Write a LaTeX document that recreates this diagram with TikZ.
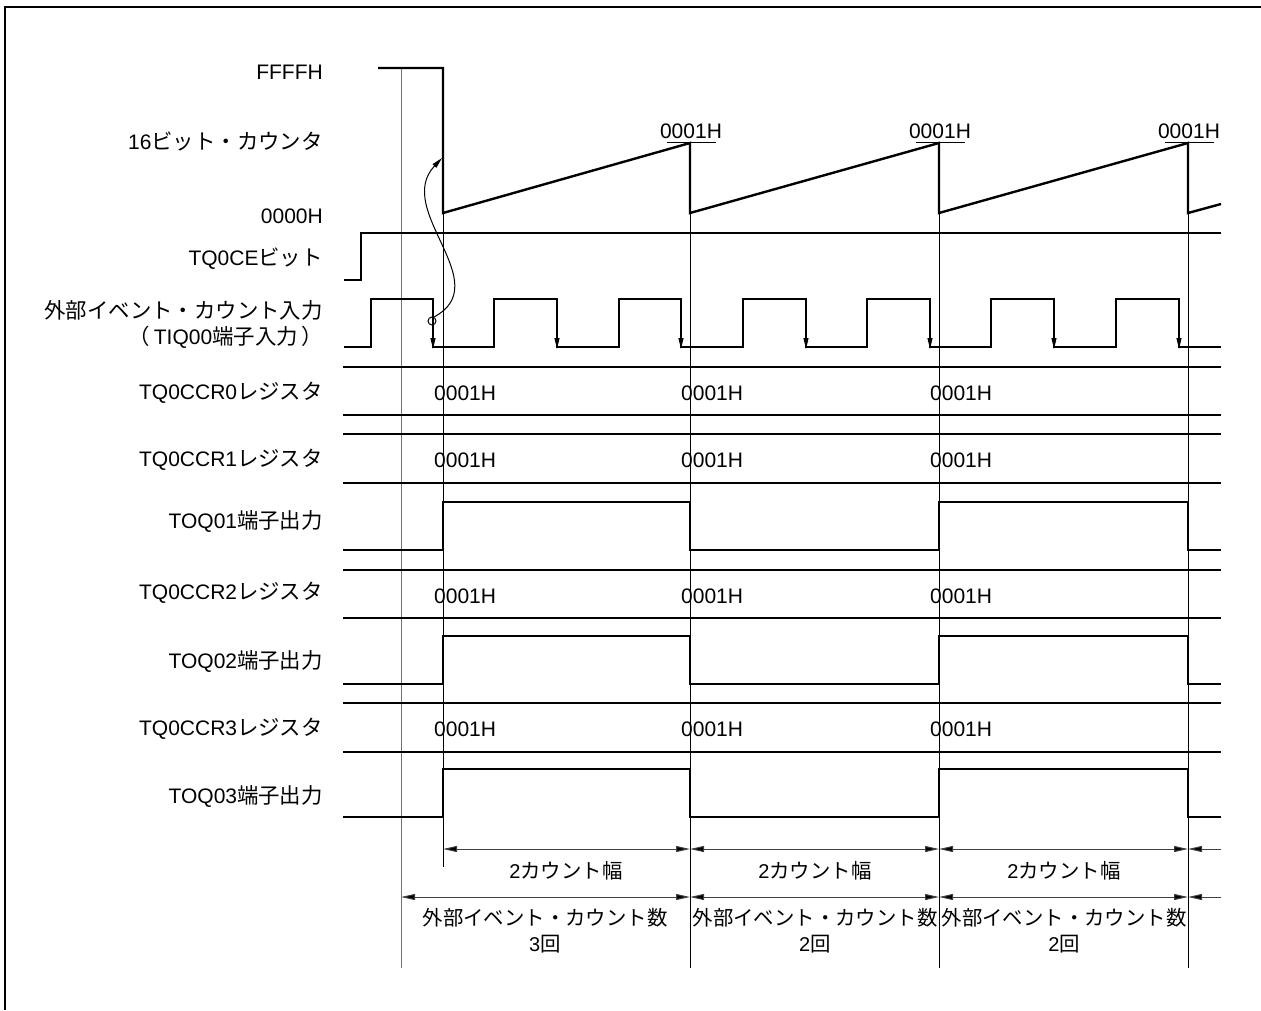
\documentclass[tikz,border=0pt]{standalone}
\usepackage{fontspec}
\setmainfont{Liberation Sans}
\newfontfamily\cjk[Scale=1.02]{Noto Sans CJK JP}
\usetikzlibrary{arrows.meta}
\begin{document}
\begin{tikzpicture}[x=1pt,y=-1pt,
  wave/.style={line width=2.4pt, line join=miter, line cap=butt},
  thinl/.style={line width=1pt},
  grayl/.style={line width=1pt, black!55},
  lbl/.style={inner sep=0pt, font=\fontsize{21}{25}\selectfont, anchor=east},
  txt/.style={inner sep=0pt, font=\fontsize{21}{25}\selectfont},
  btxt/.style={inner sep=0pt, font=\fontsize{20}{24}\selectfont},
  fallarrow/.style={line width=1pt, -{Triangle[length=11pt,width=5pt]}},
  dim/.style={line width=1pt, black!75, {Triangle[length=14pt,width=6pt,fill=black]}-{Triangle[length=14pt,width=6pt,fill=black]}},
  dimr/.style={line width=1pt, black!75, {Triangle[length=14pt,width=6pt,fill=black]}-}]
\useasboundingbox (0,0) rectangle (1261,1010);
% frame
\draw[line width=2pt] (5,1010) -- (5,7) -- (1261,7);

% timing coordinates
\coordinate (tA) at (401,0);
\coordinate (t0) at (443,0);
\coordinate (t1) at (690,0);
\coordinate (t2) at (939,0);
\coordinate (t3) at (1188,0);

% vertical guide lines
\draw[grayl] (401,68) -- (401,968);
\draw[thinl] (443,213) -- (443,867);
\foreach \x in {690,939,1188}{
  \draw[thinl] (\x,143) -- (\x,968);
}

% labels
\node[lbl] (lF) at (323,72) {FFFFH};
\node[lbl] (lcnt) at (323,141) {16{\cjk ビット・カウンタ}};
\node[lbl] (l0) at (323,216) {0000H};
\node[lbl] (lce) at (323,259) {TQ0CE{\cjk ビット}};
\node[lbl] (lev1) at (323,310) {\cjk 外部イベント・カウント入力};
\node[lbl] (lev2) at (323,337) {{\cjk （}\,TIQ00{\cjk 端子入力}\,{\cjk ）}};
\node[lbl] (lr0) at (323,393) {TQ0CCR0{\cjk レジスタ}};
\node[lbl] (lr1) at (323,460) {TQ0CCR1{\cjk レジスタ}};
\node[lbl] (lo1) at (323,521) {TOQ01{\cjk 端子出力}};
\node[lbl] (lr2) at (323,593) {TQ0CCR2{\cjk レジスタ}};
\node[lbl] (lo2) at (323,661) {TOQ02{\cjk 端子出力}};
\node[lbl] (lr3) at (323,729) {TQ0CCR3{\cjk レジスタ}};
\node[lbl] (lo3) at (323,796) {TOQ03{\cjk 端子出力}};

% 16-bit counter
\draw[wave] (378,68) -- (443,68) -- (443,213) -- (690,143) -- (690,213) -- (939,143) -- (939,213) -- (1188,143) -- (1188,213) -- (1221,204);
\foreach \x/\n in {690/a,939/b,1188/c}{
  \node[txt] (pk\n) at (\x+1,131) {0001H};
  \draw[thinl] (\x-23,142) -- (\x+26,142);
}

% TQ0CE bit
\draw[wave] (344,280) -- (361,280) -- (361,233) -- (1221,233);

% external event input
\draw[wave] (344,347) -- (371,347) -- (371,299) -- (433,299) -- (433,347) -- (494,347) -- (494,299) -- (557,299) -- (557,347) -- (619,347) -- (619,299) -- (681,299) -- (681,347) -- (743,347) -- (743,299) -- (806,299) -- (806,347) -- (867,347) -- (867,299) -- (930,299) -- (930,347) -- (991,347) -- (991,299) -- (1054,299) -- (1054,347) -- (1116,347) -- (1116,299) -- (1179,299) -- (1179,347) -- (1221,347);
\foreach \x in {433,557,681,806,930,1054,1179}{
  \draw[fallarrow] (\x,326) -- (\x,349);
}
\draw[thinl] (432,321) circle (4);
\coordinate (cs) at (434,317);
\coordinate (ce) at (442,158);
\draw[thinl, -{Triangle[length=11pt,width=5pt]}] (cs) .. controls (497,283) and (393,210) .. (ce);

% register buses
\foreach \ya/\yb/\n in {367/415/0,434/483/1,570/618/2,703/752/3}{
  \draw[wave] (343,\ya) -- (1221,\ya);
  \draw[wave] (343,\yb) -- (1221,\yb);
  \foreach \x in {443,690,939}{
    \node[txt, anchor=west] at (\x-9,{(\ya+\yb)/2+2}) {0001H};
  }
}

% outputs
\foreach \hi/\lo in {502/550,636/684,769/817}{
  \draw[wave] (343,\lo) -- (443,\lo) -- (443,\hi) -- (690,\hi) -- (690,\lo) -- (939,\lo) -- (939,\hi) -- (1188,\hi) -- (1188,\lo) -- (1221,\lo);
}

% dimension lines
\draw[dim] (443,849) -- (690,849);
\draw[dim] (690,849) -- (939,849);
\draw[dim] (939,849) -- (1188,849);
\draw[dimr] (1188,849) -- (1221,849);
\draw[dim] (401,897) -- (690,897);
\draw[dim] (690,897) -- (939,897);
\draw[dim] (939,897) -- (1188,897);
\draw[dimr] (1188,897) -- (1221,897);

\node[btxt] (w1) at (566,871) {2{\cjk カウント幅}};
\node[btxt] (w2) at (815,871) {2{\cjk カウント幅}};
\node[btxt] (w3) at (1064,871) {2{\cjk カウント幅}};
\node[btxt] (e1) at (545,918) {\cjk 外部イベント・カウント数};
\node[btxt] (e2) at (815,918) {\cjk 外部イベント・カウント数};
\node[btxt] (e3) at (1064,918) {\cjk 外部イベント・カウント数};
\node[btxt] (n1) at (545,944) {3{\cjk 回}};
\node[btxt] (n2) at (815,944) {2{\cjk 回}};
\node[btxt] (n3) at (1064,944) {2{\cjk 回}};
\end{tikzpicture}
\end{document}
